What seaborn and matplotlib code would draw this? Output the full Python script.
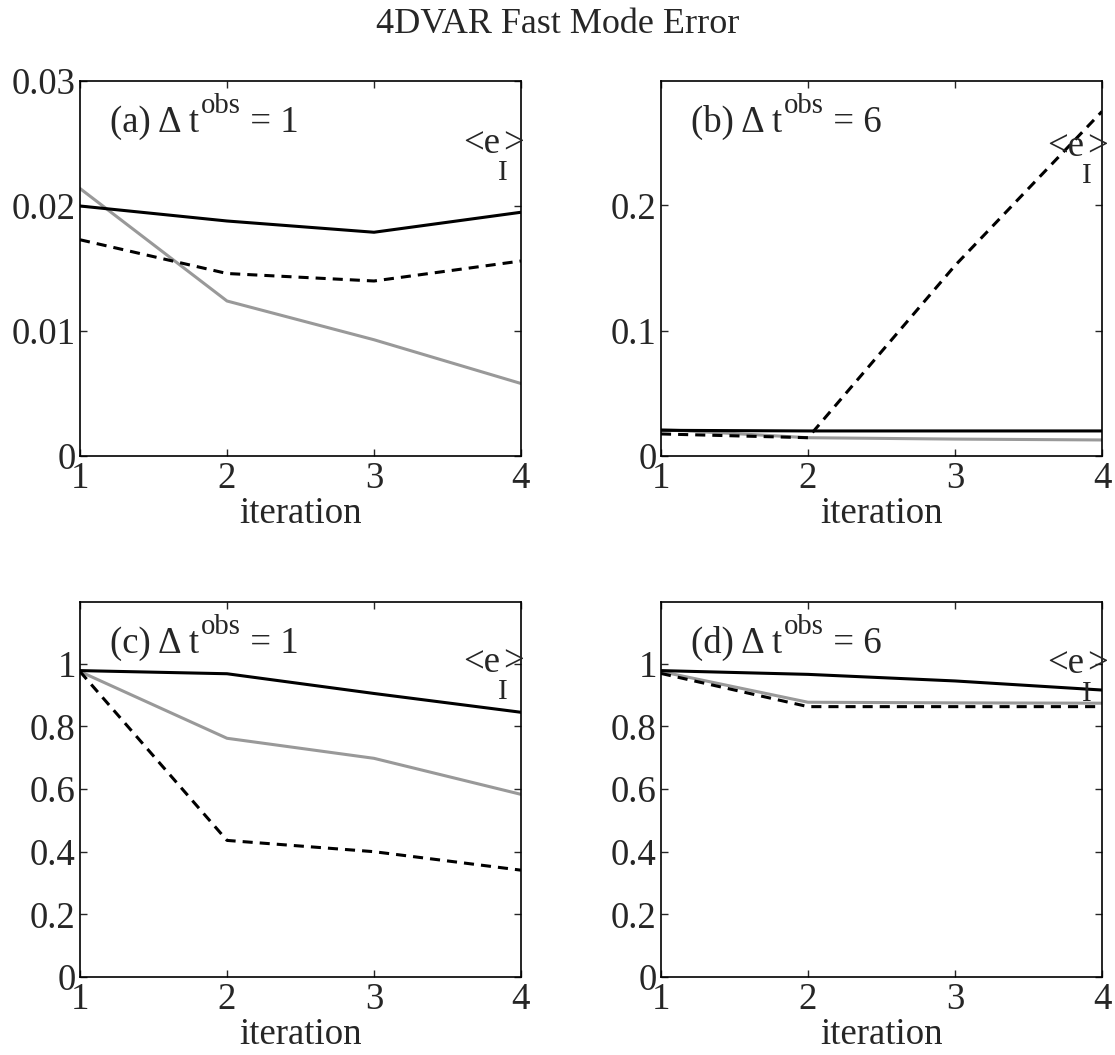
import numpy as np
import pandas as pd
import matplotlib
matplotlib.use("Agg")
import matplotlib.pyplot as plt
import seaborn as sns

iterations = [1, 2, 3, 4]

# panel (a)
a_solid = [0.0200, 0.0188, 0.0179, 0.0195]
a_dashed = [0.0173, 0.0146, 0.0140, 0.0156]
a_gray = [0.0214, 0.0124, 0.0093, 0.0058]
# panel (b)
b_solid = [0.0205, 0.0200, 0.0200, 0.0200]
b_dashed = [0.0176, 0.0146, 0.152, 0.275]
b_gray = [0.0212, 0.0146, 0.0135, 0.0128]
# panel (c)
c_solid = [0.978, 0.968, 0.905, 0.845]
c_dashed = [0.975, 0.436, 0.400, 0.341]
c_gray = [0.975, 0.762, 0.698, 0.583]
# panel (d)
d_solid = [0.978, 0.966, 0.945, 0.916]
d_dashed = [0.969, 0.863, 0.863, 0.863]
d_gray = [0.975, 0.877, 0.875, 0.874]

panel_prefix = ["(a) \u0394 t", "(b) \u0394 t", "(c) \u0394 t", "(d) \u0394 t"]
panel_sup = "obs"
panel_suffix = [" = 1", " = 6", " = 1", " = 6"]
title = "4DVAR Fast Mode Error"
xlabel = "iteration"

sns.set_style("ticks")
plt.rcParams["font.family"] = ["Liberation Serif", "DejaVu Serif"]

fig = plt.figure(figsize=(11.15, 10.55), dpi=100)
W, H = 1115.0, 1055.0
boxes = [(80, 81, 521, 456), (661, 81, 1102, 456), (80, 602, 521, 977), (661, 602, 1102, 977)]
data = [(a_solid, a_dashed, a_gray), (b_solid, b_dashed, b_gray),
        (c_solid, c_dashed, c_gray), (d_solid, d_dashed, d_gray)]
ylims = [(0, 0.03), (0, 0.2993), (0, 1.197), (0, 1.197)]
yticks = [[0, 0.01, 0.02, 0.03], [0, 0.1, 0.2], [0, 0.2, 0.4, 0.6, 0.8, 1.0], [0, 0.2, 0.4, 0.6, 0.8, 1.0]]
yticklabels = [["0", "0.01", "0.02", "0.03"], ["0", "0.1", "0.2"],
               ["0", "0.2", "0.4", "0.6", "0.8", "1"], ["0", "0.2", "0.4", "0.6", "0.8", "1"]]
elabel_pos = [(0.868, 0.808), (0.875, 0.80), (0.868, 0.814), (0.875, 0.81)]

FS = 26.5
for i, (box, (s, d, g)) in enumerate(zip(boxes, data)):
    l, t, r, b = box
    ax = fig.add_axes([l / W, 1 - b / H, (r - l) / W, (b - t) / H])
    df = pd.DataFrame({"iteration": iterations * 3,
                       "value": list(s) + list(d) + list(g),
                       "series": ["solid"] * 4 + ["dashed"] * 4 + ["gray"] * 4})
    sns.lineplot(data=df[df.series == "gray"], x="iteration", y="value", ax=ax,
                 color="#999999", lw=2.2, legend=False)
    sns.lineplot(data=df[df.series == "solid"], x="iteration", y="value", ax=ax,
                 color="black", lw=2.2, legend=False)
    sns.lineplot(data=df[df.series == "dashed"], x="iteration", y="value", ax=ax,
                 color="black", lw=2.2, legend=False)
    ax.lines[-1].set_dashes([3.3, 2.3])
    ax.set_xlim(1, 4)
    ax.set_ylim(*ylims[i])
    ax.set_xticks([1, 2, 3, 4])
    ax.set_xticklabels(["1", "2", "3", "4"])
    ax.set_yticks(yticks[i])
    ax.set_yticklabels(yticklabels[i])
    ax.tick_params(direction="in", length=5, width=1, top=True, right=True,
                   labelsize=FS)
    ax.tick_params(axis="x", pad=4.3)
    ax.tick_params(axis="y", pad=3)
    for sp in ax.spines.values():
        sp.set_visible(True)
        sp.set_linewidth(1.2)
        sp.set_color("black")
    ax.set_xlabel(xlabel, fontsize=FS, labelpad=0)
    ax.set_ylabel("")

    # panel label: prefix, raised superscript, suffix
    t1 = ax.text(0.068, 0.865, panel_prefix[i], transform=ax.transAxes, fontsize=FS,
                 ha="left", va="baseline")
    t2 = ax.annotate(panel_sup, xy=(1, 0), xycoords=t1, xytext=(1.2, 14.9),
                     textcoords="offset points", fontsize=FS * 0.78, ha="left", va="bottom")
    ax.annotate(panel_suffix[i], xy=(1, 0), xycoords=(t2, t1), xytext=(0, 0),
                textcoords="offset points", fontsize=FS, ha="left", va="bottom")

    # <e_I> label
    ex, ey = elabel_pos[i]
    e1 = ax.text(ex, ey, "<e", transform=ax.transAxes, fontsize=FS,
                 ha="left", va="baseline", clip_on=False)
    e2 = ax.annotate("I", xy=(1, 0), xycoords=e1, xytext=(-1.5, -18.2),
                     textcoords="offset points", fontsize=FS * 0.8, ha="left", va="bottom",
                     annotation_clip=False)
    ax.annotate(">", xy=(1, 0), xycoords=(e2, e1), xytext=(-3, 0),
                textcoords="offset points", fontsize=FS, ha="left", va="bottom",
                annotation_clip=False)

fig.text(0.5, 1 - 33 / H, title, ha="center", va="baseline", fontsize=26)
fig.savefig("out.png", dpi=100)
